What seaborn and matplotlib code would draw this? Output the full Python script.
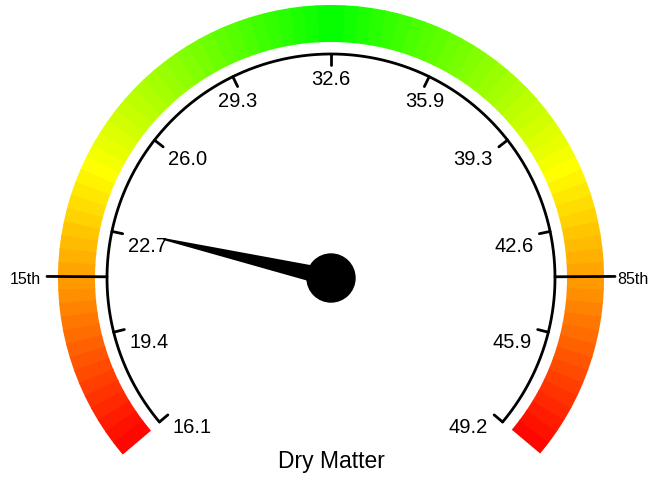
import numpy as np
import matplotlib
matplotlib.use("Agg")
import matplotlib.pyplot as plt
from matplotlib.patches import Wedge, Circle, Polygon
import colorsys
import seaborn as sns

# gauge data
title = "Dry Matter"
gauge_min = 16.05
gauge_max = 49.2
tick_labels = ["16.1", "19.4", "22.7", "26.0", "29.3", "32.6",
               "35.9", "39.3", "42.6", "45.9", "49.2"]
pct_labels = ["15th", "85th"]
pct_values = [21.19, 44.06]
needle_value = 22.82

sns.set_theme(style="white")
plt.rcParams['font.family'] = ['Liberation Sans', 'DejaVu Sans']

fig = plt.figure(figsize=(6.54, 4.83), dpi=100)
ax = fig.add_axes([0, 0, 1, 1])
ax.set_xlim(-331, 323)
ax.set_ylim(-205, 278)
ax.axis("off")

start_ang, span = 220.0, 260.0


def val2ang(v):
    return start_ang - (v - gauge_min) / (gauge_max - gauge_min) * span


# coloured band, red -> yellow -> green -> yellow -> red
n_seg = 90
edges = np.linspace(-40, 220, n_seg + 1)
for a0, a1 in zip(edges[:-1], edges[1:]):
    mid = (a0 + a1) / 2
    hue = max(0.0, 1 - abs(mid - 90) / 130) * 120 / 360
    col = colorsys.hsv_to_rgb(hue, 1, 1)
    ax.add_patch(Wedge((0, 0), 273, a0, a1 + 0.3, width=37, color=col, lw=0))

# scale arc
R = 224
th = np.radians(np.linspace(-40, 220, 300))
sns.lineplot(x=R * np.cos(th), y=R * np.sin(th), sort=False, color="black",
             lw=2, ax=ax, estimator=None)

# ticks and labels
tick_vals = np.linspace(gauge_min, gauge_max, len(tick_labels))
r_in = R - 11
fs = 14.5
for v, lab in zip(tick_vals, tick_labels):
    a = np.radians(val2ang(v))
    x0, y0 = r_in * np.cos(a), r_in * np.sin(a)
    ax.plot([R * np.cos(a), x0], [R * np.sin(a), y0], color="black", lw=2)
    c = np.cos(a)
    if abs(c) < 0.5:
        ax.text(x0, y0 - 20, lab, ha="center", va="baseline",
                fontsize=fs, color="black")
    elif c < 0:
        ax.text(x0 + 5, y0 - 18.5, lab, ha="left", va="baseline",
                fontsize=fs, color="black")
    else:
        ax.text(x0 - 6, y0 - 18.5, lab, ha="right", va="baseline",
                fontsize=fs, color="black")

# percentile marks
for v, lab in zip(pct_values, pct_labels):
    a = np.radians(val2ang(v))
    ax.plot([R * np.cos(a), 284 * np.cos(a)],
            [R * np.sin(a), 284 * np.sin(a)], color="black", lw=2)
    if np.cos(a) < 0:
        ax.text(-290, -6, lab, ha="right", va="baseline", fontsize=11.5,
                color="black")
    else:
        ax.text(286, -6, lab, ha="left", va="baseline", fontsize=11.5,
                color="black")

# needle
a = np.radians(val2ang(needle_value))
L = 172
perp = a + np.pi / 2
pts = [(L * np.cos(a) + 1 * np.cos(perp), L * np.sin(a) + 1 * np.sin(perp)),
       (L * np.cos(a) - 1 * np.cos(perp), L * np.sin(a) - 1 * np.sin(perp)),
       (-9 * np.cos(perp), -9 * np.sin(perp)),
       (9 * np.cos(perp), 9 * np.sin(perp))]
ax.add_patch(Polygon(pts, closed=True, color="black", lw=0))
ax.add_patch(Circle((0, 0), 24, color="black"))

ax.text(0, -190, title, ha="center", va="baseline", fontsize=16.5,
        color="black")

fig.savefig("out.png", dpi=100)
